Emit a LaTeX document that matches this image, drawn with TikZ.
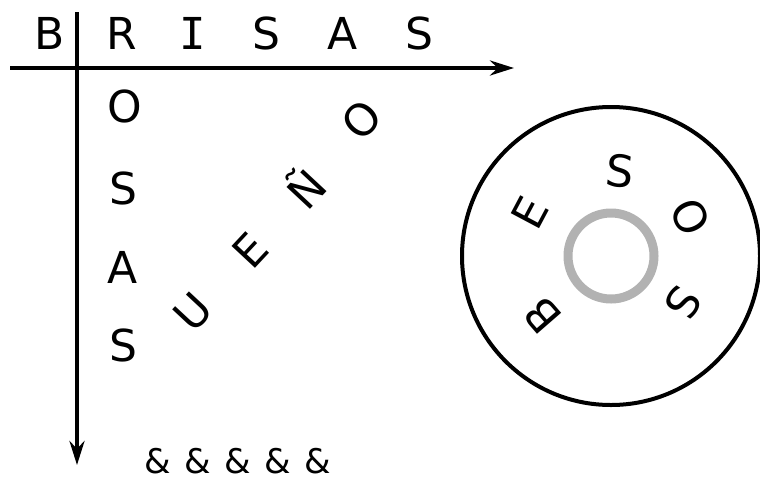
\documentclass[tikz,border=0pt]{standalone}
\usepackage{fontspec}
\setmainfont{DejaVu Sans}
\newfontfamily\monofnt{DejaVu Sans Mono}
\usetikzlibrary{arrows.meta}
\definecolor{ringgray}{RGB}{178,178,178}
\begin{document}
\begin{tikzpicture}[x=1pt,y=-1pt,
  lt/.style={font=\fontsize{44}{44}\selectfont, inner sep=0pt, anchor=center},
  amp/.style={font=\fontsize{34}{34}\selectfont, inner sep=0pt, anchor=center},
  axis/.style={line width=4pt, -{Stealth[length=24pt,width=15pt]}}]
\useasboundingbox (0,0) rectangle (760,480);
% axes
\coordinate (hs) at (10,68); \coordinate (he) at (514,68);
\coordinate (vs) at (77,12); \coordinate (ve) at (77,465);
\draw[axis] (hs) -- (he);
\draw[axis] (vs) -- (ve);
% top row
\node[lt] (b0) at (50,33) {B};
\node[lt] (r1) at (122,33) {R};
\node[lt,font=\fontsize{44}{44}\monofnt] (i1) at (193,33) {I};
\node[lt] (s1) at (266,33) {S};
\node[lt] (a1) at (343,33) {A};
\node[lt] (s2) at (419,33) {S};
% column
\node[lt] (o2) at (125,106) {O};
\node[lt] (s3) at (123,188) {S};
\node[lt] (a2) at (123,267) {A};
\node[lt] (s4) at (123,345) {S};
% diagonal
\node[lt,rotate=47] (u3) at (193,312) {U};
\node[lt,rotate=47] (e3) at (250,250) {E};
\node[lt,rotate=47] (n3) at (304,187) {Ñ};
\node[lt,rotate=47] (o3) at (362,120) {O};
% circle
\coordinate (c) at (611,256);
\node[draw, circle, line width=4pt, minimum size=298pt, inner sep=0pt] (outer) at (c) {};
\node[draw=ringgray, circle, line width=9pt, minimum size=86pt, inner sep=0pt] (ring) at (c) {};
\node[lt,rotate=131] (b5) at (542,316) {B};
\node[lt,rotate=62] (e5) at (530,213) {E};
\node[lt,rotate=-6] (s5) at (620,171) {S};
\node[lt,rotate=-64] (o5) at (690,217) {O};
\node[lt,rotate=-123] (s6) at (683,303) {S};
% ampersands
\node[amp] (p1) at (158,461) {\&};
\node[amp] (p2) at (198,461) {\&};
\node[amp] (p3) at (238,461) {\&};
\node[amp] (p4) at (278,461) {\&};
\node[amp] (p5) at (318,461) {\&};
\end{tikzpicture}
\end{document}
